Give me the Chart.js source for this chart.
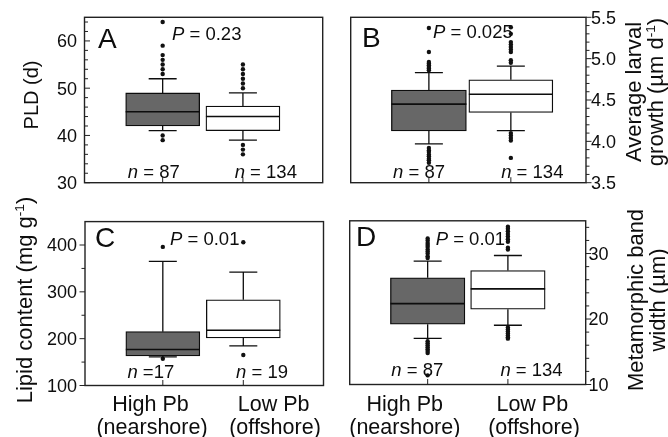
<!DOCTYPE html>
<html><head><meta charset="utf-8">
<script src="https://cdn.jsdelivr.net/npm/chart.js@4/dist/chart.umd.min.js"></script>
<style>
html,body{margin:0;padding:0;background:#fff;width:668px;height:437px;overflow:hidden}
canvas{position:absolute;left:0;top:0}
</style></head><body>
<canvas id="cA" width="668" height="437"></canvas>
<canvas id="cB" width="668" height="437"></canvas>
<canvas id="cC" width="668" height="437"></canvas>
<canvas id="cD" width="668" height="437"></canvas>
<script>
// ---------- data ----------
const groups = ['High Pb', 'Low Pb'];
const groupSites = ['(nearshore)', '(offshore)'];
const groupX = [1, 2];

// Panel A: PLD (d)
const pldQ1 = [42, 41];
const pldMedian = [45, 44];
const pldQ3 = [49, 46.2];
const pldWhiskerLow = [41, 39];
const pldWhiskerHigh = [52, 49];
const pldOutliersHighPb = [64, 59, 57, 56, 55, 54, 53, 40, 39];
const pldOutliersLowPb = [55, 54, 53, 52, 51, 50, 38, 37, 36];
const pldN = [87, 134];
const pldP = '0.23';
const pldTicks = [30, 40, 50, 60];

// Panel B: average larval growth (µm d-1)
const growthQ1 = [4.125, 4.35];
const growthMedian = [4.45, 4.57];
const growthQ3 = [4.62, 4.745];
const growthWhiskerLow = [3.97, 4.13];
const growthWhiskerHigh = [4.83, 4.91];
const growthOutliersHighPb = [5.37, 5.08, 4.96, 4.94, 4.92, 4.90, 4.88, 4.86,
  3.92, 3.89, 3.87, 3.84, 3.82, 3.79, 3.77, 3.74];
const growthOutliersLowPb = [5.38, 5.30, 5.20, 5.17, 5.14, 5.11, 5.08, 4.98, 4.95,
  4.10, 4.07, 4.04, 4.01, 3.80];
const growthN = [87, 134];
const growthP = '0.025';
const growthTicks = [3.5, 4.0, 4.5, 5.0, 5.5];

// Panel C: lipid content (mg g-1)
const lipidQ1 = [163, 201.5];
const lipidMedian = [177, 218];
const lipidQ3 = [215, 283];
const lipidWhiskerLow = [161, 184.5];
const lipidWhiskerHigh = [365, 342];
const lipidOutliersHighPb = [396, 157];
const lipidOutliersLowPb = [406, 165];
const lipidN = [17, 19];
const lipidP = '0.01';
const lipidTicks = [100, 200, 300, 400];

// Panel D: metamorphic band width (µm)
const bandQ1 = [19.2, 21.5];
const bandMedian = [22.35, 24.6];
const bandQ3 = [26.3, 27.4];
const bandWhiskerLow = [17.05, 19.05];
const bandWhiskerHigh = [28.85, 29.7];
const bandOutliersHighPb = [32.3, 32.0, 31.6, 31.3, 31.0, 30.6, 30.3, 30.0, 29.6, 29.3,
  16.6, 16.3, 16.0, 15.7, 15.4, 15.1, 14.8, 11.4];
const bandOutliersLowPb = [34.1, 33.8, 33.4, 33.0, 32.6, 32.2, 31.8, 30.9, 30.6,
  18.7, 18.4, 18.1, 17.8, 17.5, 17.2, 17.0];
const bandN = [87, 134];
const bandP = '0.01';
const bandTicks = [10, 20, 30];

// ---------- styling / layout ----------
const FONT = '"Liberation Sans", Arial, Helvetica, sans-serif';
const INK = '#0d0d0d';
const boxFills = ['#676767', '#ffffff'];

const panels = [
  { id: 'cA', letter: 'A', q1: pldQ1, med: pldMedian, q3: pldQ3, wl: pldWhiskerLow, wh: pldWhiskerHigh,
    out: [pldOutliersHighPb, pldOutliersLowPb], n: pldN, p: pldP, ticks: pldTicks, dec: 0,
    ymin: 30, ymax: 65, minor: 2, side: 'left', dir: 'in',
    area: { l: 84.5, t: 17.3, r: 322.7, b: 182.7 }, xmin: 0.397, xmax: 2.623, boxW: [74, 74],
    letterPos: [98, 47.5], pPos: [172, 40], nPos: [[153.8, 178.3], [265.8, 178.3]], nTight: [false, false],
    labelX: 77, title: { size: 20, y: 95, lines: [{ x: 37.5, segs: [{ t: 'PLD (d)' }] }] }, xLabels: null },
  { id: 'cB', letter: 'B', q1: growthQ1, med: growthMedian, q3: growthQ3, wl: growthWhiskerLow, wh: growthWhiskerHigh,
    out: [growthOutliersHighPb, growthOutliersLowPb], n: growthN, p: growthP, ticks: growthTicks, dec: 1,
    ymin: 3.5, ymax: 5.5, minor: 0.1, side: 'right', dir: 'out',
    area: { l: 350.7, t: 17.3, r: 586, b: 182.7 }, xmin: 0.405, xmax: 2.558, boxW: [75, 84],
    letterPos: [362, 46.5], pPos: [433, 38], nPos: [[419, 178.3], [532.3, 178.3]], nTight: [false, false],
    labelX: 591, title: { size: 22, y: 92, lines: [
      { x: 640.5, segs: [{ t: 'Average larval' }] },
      { x: 662.5, segs: [{ t: 'growth (\u00b5m d' }, { t: '-1', sup: true }, { t: ')' }] }] }, xLabels: null },
  { id: 'cC', letter: 'C', q1: lipidQ1, med: lipidMedian, q3: lipidQ3, wl: lipidWhiskerLow, wh: lipidWhiskerHigh,
    out: [lipidOutliersHighPb, lipidOutliersLowPb], n: lipidN, p: lipidP, ticks: lipidTicks, dec: 0,
    ymin: 100, ymax: 450, minor: 50, side: 'left', dir: 'out',
    area: { l: 85, t: 221.6, r: 323.5, b: 385.5 }, xmin: 0.4035, xmax: 2.626, boxW: [74, 74],
    letterPos: [95, 247], pPos: [170, 245.3], nPos: [[150.8, 378], [262, 378]], nTight: [true, false],
    labelX: 77, title: { size: 22, y: 300, lines: [
      { x: 32, segs: [{ t: 'Lipid content (mg g' }, { t: '-1', sup: true }, { t: ')' }] }] },
    xLabels: [[150.5, 152], [273.7, 275]] },
  { id: 'cD', letter: 'D', q1: bandQ1, med: bandMedian, q3: bandQ3, wl: bandWhiskerLow, wh: bandWhiskerHigh,
    out: [bandOutliersHighPb, bandOutliersLowPb], n: bandN, p: bandP, ticks: bandTicks, dec: 0,
    ymin: 10, ymax: 35, minor: 2, side: 'right', dir: 'out',
    area: { l: 349.7, t: 220.8, r: 585.7, b: 384.5 }, xmin: 0.396, xmax: 2.602, boxW: [74.5, 74.5],
    letterPos: [356, 246], pPos: [435.7, 245.3], nPos: [[417.3, 376], [531.5, 376]], nTight: [false, false],
    labelX: 588.5, title: { size: 22, y: 300, lines: [
      { x: 642.5, segs: [{ t: 'Metamorphic band' }] },
      { x: 664.5, segs: [{ t: 'width (\u00b5m)' }] }] },
    xLabels: [[404.8, 404.8], [532.3, 534]] }
];

// ---------- helpers ----------
function fontFor(seg, size) {
  const s = seg.sup ? size * 0.62 : size;
  return (seg.italic ? 'italic ' : '') + s + 'px ' + FONT;
}
function rich(ctx, segs, x, y, size, align, rotate) {
  ctx.save();
  ctx.translate(x, y);
  if (rotate) ctx.rotate(-Math.PI / 2);
  ctx.fillStyle = INK;
  ctx.textAlign = 'left';
  ctx.textBaseline = 'alphabetic';
  const widths = segs.map(s => { ctx.font = fontFor(s, size); return ctx.measureText(s.t).width; });
  const total = widths.reduce((a, b) => a + b, 0);
  let cx = align === 'center' ? -total / 2 : (align === 'right' ? -total : 0);
  segs.forEach((s, i) => {
    ctx.font = fontFor(s, size);
    ctx.fillText(s.t, cx, s.sup ? -size * 0.36 : 0);
    cx += widths[i];
  });
  ctx.restore();
}

const boxPlotPlugin = {
  id: 'boxPlotExtras',
  afterDatasetsDraw(chart, args, opts) {
    const P = opts.panel;
    const ctx = chart.ctx;
    const xs = chart.scales.x, ys = chart.scales.y;
    const a = chart.chartArea;
    ctx.save();
    ctx.strokeStyle = INK;
    ctx.lineCap = 'butt';
    // whiskers and medians
    groupX.forEach((gx, i) => {
      const cx = xs.getPixelForValue(gx);
      const half = P.boxW[i] / 2;
      const cap = 14;
      ctx.lineWidth = 1.3;
      ctx.beginPath();
      ctx.moveTo(cx, ys.getPixelForValue(P.q3[i])); ctx.lineTo(cx, ys.getPixelForValue(P.wh[i]));
      ctx.moveTo(cx, ys.getPixelForValue(P.q1[i])); ctx.lineTo(cx, ys.getPixelForValue(P.wl[i]));
      ctx.moveTo(cx - cap, ys.getPixelForValue(P.wh[i])); ctx.lineTo(cx + cap, ys.getPixelForValue(P.wh[i]));
      ctx.moveTo(cx - cap, ys.getPixelForValue(P.wl[i])); ctx.lineTo(cx + cap, ys.getPixelForValue(P.wl[i]));
      ctx.stroke();
      ctx.lineWidth = 1.6;
      ctx.beginPath();
      const my = ys.getPixelForValue(P.med[i]);
      ctx.moveTo(cx - half, my); ctx.lineTo(cx + half, my);
      ctx.stroke();
    });
    // frame
    ctx.lineWidth = 1.4;
    ctx.strokeStyle = '#222';
    ctx.strokeRect(a.left, a.top, a.right - a.left, a.bottom - a.top);
    // y ticks
    const axisX = P.side === 'left' ? a.left : a.right;
    const sign = (P.side === 'left' ? -1 : 1) * (P.dir === 'out' ? 1 : -1);
    ctx.lineWidth = 1;
    ctx.beginPath();
    const steps = Math.round((P.ymax - P.ymin) / P.minor);
    for (let k = 1; k < steps; k++) {
      const v = P.ymin + k * P.minor;
      const isMajor = P.ticks.some(t => Math.abs(t - v) < 1e-6);
      const y = ys.getPixelForValue(v);
      const len = isMajor ? 5.5 : 3.5;
      ctx.moveTo(axisX, y); ctx.lineTo(axisX + sign * len, y);
    }
    P.ticks.forEach(t => {
      if (Math.abs(t - P.ymin) < 1e-6 || Math.abs(t - P.ymax) < 1e-6) {
        const y = ys.getPixelForValue(t);
        ctx.moveTo(axisX, y); ctx.lineTo(axisX + sign * 5.5, y);
      }
    });
    // x ticks (inward, from bottom)
    groupX.forEach(gx => {
      const x = xs.getPixelForValue(gx);
      ctx.moveTo(x, a.bottom); ctx.lineTo(x, a.bottom - 5.5);
    });
    ctx.stroke();
    ctx.restore();

    // tick labels
    ctx.save();
    ctx.fillStyle = INK;
    ctx.font = '18px ' + FONT;
    ctx.textBaseline = 'alphabetic';
    ctx.textAlign = P.side === 'left' ? 'right' : 'left';
    P.ticks.forEach(t => {
      const y = ys.getPixelForValue(t);
      ctx.fillText(t.toFixed(P.dec), P.labelX, y + 6.4);
    });
    ctx.restore();

    // panel letter
    ctx.save();
    ctx.fillStyle = INK;
    ctx.font = '28px ' + FONT;
    ctx.textAlign = 'left';
    ctx.fillText(P.letter, P.letterPos[0], P.letterPos[1]);
    ctx.restore();

    // P value
    rich(ctx, [{ t: 'P', italic: true }, { t: ' = ' + P.p }], P.pPos[0], P.pPos[1], 18.5, 'left', false);

    // n labels
    P.n.forEach((n, i) => {
      rich(ctx, [{ t: 'n', italic: true }, { t: ' =' + (P.nTight[i] ? '' : ' ') + n }],
        P.nPos[i][0], P.nPos[i][1], 18.5, 'center', false);
    });

    // axis title (rotated, reading bottom to top)
    P.title.lines.forEach(line => {
      rich(ctx, line.segs, line.x, P.title.y, P.title.size, 'center', true);
    });

    // category labels
    if (P.xLabels) {
      groups.forEach((g, i) => {
        rich(ctx, [{ t: g }], P.xLabels[i][0], 410.5, 21.5, 'center', false);
        rich(ctx, [{ t: groupSites[i] }], P.xLabels[i][1], 433.5, 21.5, 'center', false);
      });
    }
  }
};

panels.forEach(P => {
  const datasets = groupX.map((gx, i) => ({
    type: 'bar',
    data: [{ x: gx, y: [P.q1[i], P.q3[i]] }],
    backgroundColor: boxFills[i],
    borderColor: INK,
    borderWidth: 1.3,
    borderSkipped: false,
    barThickness: P.boxW[i],
    grouped: false,
    order: 2
  }));
  datasets.push({
    type: 'scatter',
    data: P.out.flatMap((arr, i) => arr.map(v => ({ x: groupX[i], y: v }))),
    pointRadius: 2.2,
    pointBackgroundColor: '#111',
    pointBorderWidth: 0,
    order: 1
  });
  new Chart(document.getElementById(P.id), {
    type: 'bar',
    data: { datasets },
    options: {
      responsive: false,
      animation: false,
      events: [],
      layout: { padding: { left: P.area.l, top: P.area.t, right: 668 - P.area.r, bottom: 437 - P.area.b } },
      scales: {
        x: { type: 'linear', min: P.xmin, max: P.xmax, display: false },
        y: { type: 'linear', min: P.ymin, max: P.ymax, display: false }
      },
      plugins: {
        legend: { display: false },
        tooltip: { enabled: false },
        boxPlotExtras: { panel: P }
      }
    },
    plugins: [boxPlotPlugin]
  });
});
</script>
</body></html>
